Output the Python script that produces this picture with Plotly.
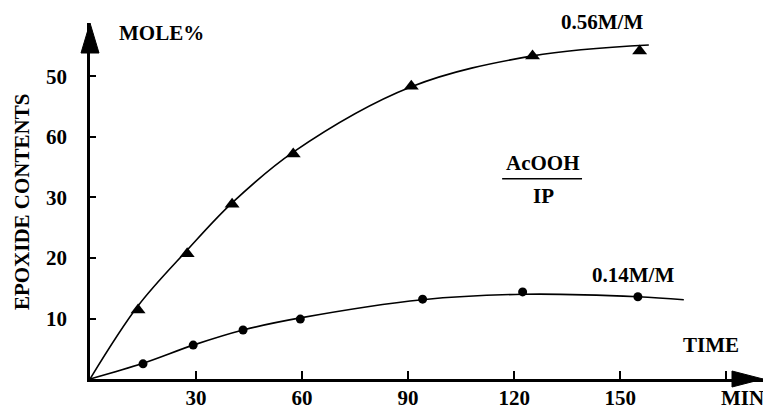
import plotly.graph_objects as go

# ---- data ----
time_high = [13.6, 27.5, 40.2, 57.5, 90.9, 125.2, 155.5]
epox_high = [11.4, 20.7, 28.9, 37.2, 48.4, 53.4, 54.2]

time_low = [15.0, 29.2, 43.3, 59.5, 94.1, 122.4, 155.0]
epox_low = [2.5, 5.6, 8.1, 9.9, 13.2, 14.4, 13.6]

# fitted curves as drawn
curve_high_x = [0, 13.6, 27.5, 40.2, 57.5, 90.9, 125.2, 158.1]
curve_high_y = [0, 12.1, 21.3, 29.1, 37.5, 48.3, 53.4, 55.2]
curve_low_x = [0, 15.0, 29.2, 43.3, 59.5, 94.1, 122.4, 155.0, 168.0]
curve_low_y = [0, 2.6, 5.6, 8.1, 10.1, 13.1, 14.0, 13.6, 13.1]

x_tickvals = [30, 60, 90, 120, 150, 180]
x_ticktext = ["30", "60", "90", "120", "150", ""]
y_tickvals = [10, 20, 30, 40, 50]
y_ticktext = ["10", "20", "30", "60", "50"]

X_MAX = 190.4
Y_MAX = 58.84
FONT = "Liberation Serif"
FS = 21

fig = go.Figure()

fig.add_trace(go.Scatter(x=curve_high_x, y=curve_high_y, mode="lines",
                         line=dict(color="black", width=1.6, shape="spline", smoothing=1.0),
                         hoverinfo="skip", showlegend=False, cliponaxis=False))
fig.add_trace(go.Scatter(x=curve_low_x, y=curve_low_y, mode="lines",
                         line=dict(color="black", width=1.6, shape="spline", smoothing=1.0),
                         hoverinfo="skip", showlegend=False, cliponaxis=False))
fig.add_trace(go.Scatter(x=time_high, y=epox_high, mode="markers",
                         marker=dict(symbol="triangle-up", size=13, color="black"),
                         name="0.56M/M", showlegend=False, cliponaxis=False))
fig.add_trace(go.Scatter(x=time_low, y=epox_low, mode="markers",
                         marker=dict(symbol="circle", size=9, color="black"),
                         name="0.14M/M", showlegend=False, cliponaxis=False))

axis_common = dict(showline=True, linecolor="black", linewidth=2.5, showgrid=False,
                   zeroline=False, ticks="inside", tickcolor="black", tickwidth=1.5,
                   automargin=False,
                   tickfont=dict(family=FONT, size=FS, color="black", weight="bold"))

fig.update_xaxes(range=[0, X_MAX], tickvals=x_tickvals, ticktext=x_ticktext,
                 ticklen=8, ticklabelstandoff=-2, **axis_common)
fig.update_yaxes(range=[0, Y_MAX], tickvals=y_tickvals, ticktext=y_ticktext,
                 ticklen=6, ticklabelstandoff=16, **axis_common)

# arrowheads on axis ends (paper-referenced so they are not clipped)
fig.add_shape(type="path", xref="paper", yref="paper", xsizemode="pixel", ysizemode="pixel",
              xanchor=0, yanchor=1, path="M -9,-30 L 0,0 L 9,-30 Z",
              fillcolor="black", line=dict(color="black", width=1))
fig.add_shape(type="path", xref="paper", yref="paper", xsizemode="pixel", ysizemode="pixel",
              xanchor=1, yanchor=0, path="M -31,-8 L 0,0 L -31,8 Z",
              fillcolor="black", line=dict(color="black", width=1))

# fraction line
fig.add_shape(type="line", xref="x", yref="y", x0=116.6, x1=139.2, y0=33.1, y1=33.1,
              line=dict(color="black", width=1.5))

def ann(text, x, y, xref="x", yref="y", **kw):
    fig.add_annotation(text=text, x=x, y=y, xref=xref, yref=yref,
                       xanchor="center", yanchor="middle", showarrow=False,
                       font=dict(family=FONT, size=FS, color="black", weight="bold"),
                       **kw)

ann("MOLE%", 20.1, 57.2)
ann("0.56M/M", (602 - 90) / 673, (379 - 22) / 356, xref="paper", yref="paper")
ann("AcOOH", 128.2, 35.7)
ann("IP", 128.2, 30.2)
ann("0.14M/M", 153.6, 17.2)
ann("TIME", 175.7, 5.6)
ann("MIN", (742 - 90) / 673, (379 - 398) / 356, xref="paper", yref="paper")
ann("EPOXIDE CONTENTS", -0.101, 0.497, xref="paper", yref="paper", textangle=-90)

fig.update_layout(width=763, height=409, margin=dict(l=90, r=0, t=23, b=30),
                  paper_bgcolor="white", plot_bgcolor="white", showlegend=False)

fig.write_html("out.html", config={"displayModeBar": False},
               post_script="document.body.style.margin='0';document.body.style.padding='0';")
